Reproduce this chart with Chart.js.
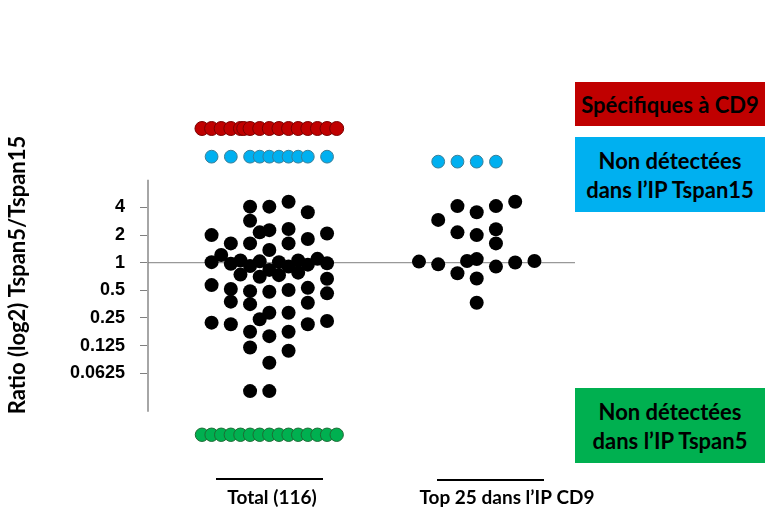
<!DOCTYPE html>
<html>
<head>
<meta charset="utf-8">
<script src="https://cdn.jsdelivr.net/npm/chart.js@4"></script>
<style>
  body { margin: 0; background: #fff; }
  #wrap { position: relative; width: 767px; height: 511px; }
  .box {
    position: absolute; left: 575px; width: 190px;
    display: flex; align-items: center; justify-content: center; text-align: center;
    font-family: Lato, "Open Sans", sans-serif; font-weight: bold; font-size: 22px;
    line-height: 29px; color: #000;
  }
</style>
</head>
<body>
<div id="wrap">
  <canvas id="chart"></canvas>
  <div class="box" style="top:82px;height:44px;background:#C00000;">Spécifiques à CD9</div>
  <div class="box" style="top:137px;height:75px;background:#00B0F0;">Non détectées<br>dans l’IP Tspan15</div>
  <div class="box" style="top:388px;height:75px;background:#00B050;">Non détectées<br>dans l’IP Tspan5</div>
</div>
<script>
// Groupes (position sur l'axe x)
const groupLabels = ['Total (116)', 'Top 25 dans l’IP CD9'];
const groupPos = [1, 2];

// Axe y : log2 du ratio
const yTickValues = [-4, -3, -2, -1, 0, 1, 2];
const yTickLabels = ['0.0625', '0.125', '0.25', '0.5', '1', '2', '4'];

// Total (116) : colonne du nuage + log2(ratio)
const totalCols = [-1, 0, 1, 2, -1, -0.5, 0, 1, -3, 3, -2, -1, 1, 2, 0, -2.5,
  -3, -2, -1.5, -1, -0.5, 0, 0.5, 1, 1.5, 2, 2.5, 3, -1.5, -0.5, 0.5, 1.5,
  -3, -2, -1, 0, 1, 2, 3, 3, -2, -1, 2, 0, 1, -0.5, -3, -2, 2, 3, -1, 1, 0, -1, 1, 0, -1, 0];
const totalLog2 = [2.03, 2.03, 2.21, 1.83, 1.52, 1.10, 1.18, 1.22, 1.0, 1.06, 0.70, 0.70, 0.70, 0.86, 0.46, 0.28,
  0.02, -0.04, 0.08, -0.12, 0.05, -0.26, 0.02, -0.14, 0.08, -0.07, 0.14, -0.02, -0.43, -0.51, -0.45, -0.36,
  -0.81, -0.95, -1.03, -1.05, -0.99, -0.91, -0.58, -1.11, -1.41, -1.50, -1.45, -1.81, -1.81, -2.05, -2.17, -2.23, -2.23, -2.11,
  -2.50, -2.50, -2.66, -3.07, -3.19, -3.62, -4.65, -4.65];

// Spécifiques à CD9 (rouge)
const cd9Cols = [-3.5, -3, -2.5, -2, -1.5, -1.33, -1, -0.5, 0, 0.5, 1, 1.5, 2, 2.5, 3, 3.5];
const cd9Log2 = [4.86, 4.86, 4.86, 4.86, 4.86, 4.86, 4.86, 4.86, 4.86, 4.86, 4.86, 4.86, 4.86, 4.86, 4.86, 4.86];

// Non détectées dans l'IP Tspan15 (bleu)
const noT15Cols = [-3, -2, -1, -0.5, 0, 0.5, 1, 1.5, 2, 3];
const noT15Log2 = [3.84, 3.84, 3.84, 3.84, 3.84, 3.84, 3.84, 3.84, 3.84, 3.84];
const topNoT15Cols = [-2, -1, 0, 1];
const topNoT15Log2 = [3.66, 3.66, 3.66, 3.66];

// Non détectées dans l'IP Tspan5 (vert)
const noT5Cols = [-3.5, -3, -2.5, -2, -1.5, -1, -0.5, 0, 0.5, 1, 1.5, 2, 2.5, 3, 3.5];
const noT5Log2 = [-6.23, -6.23, -6.23, -6.23, -6.23, -6.23, -6.23, -6.23, -6.23, -6.23, -6.23, -6.23, -6.23, -6.23, -6.23];

// Top 25 dans l'IP CD9
const topCols = [-1, 0, 1, 2, -2, -1, 0, 1, 1, -3, -2, -0.5, 0, 1, 2, 3, -1, 0, 0];
const topLog2 = [2.05, 1.83, 2.05, 2.21, 1.55, 1.10, 1.0, 1.21, 0.70, 0.04, -0.06, 0.06, 0.13, -0.14, 0.01, 0.06, -0.38, -0.57, -1.45];

const colStep = 0.0928;
function pts(group, cols, vals) {
  return cols.map((c, i) => ({ x: groupPos[group] + c * colStep, y: vals[i] }));
}
function dots(data, fill, border, r, bw) {
  return { data, backgroundColor: fill, borderColor: border, borderWidth: bw,
    pointRadius: r, pointHoverRadius: r, clip: false };
}

const decor = {
  id: 'decor',
  beforeDatasetsDraw(chart) {
    const { ctx, chartArea, scales: { y } } = chart;
    ctx.save();
    // axe vertical
    ctx.strokeStyle = '#A6A6A6';
    ctx.lineWidth = 2;
    ctx.beginPath();
    ctx.moveTo(chartArea.left, y.getPixelForValue(3.0));
    ctx.lineTo(chartArea.left, y.getPixelForValue(-5.4));
    ctx.stroke();
    // ligne ratio = 1
    ctx.strokeStyle = '#7F7F7F';
    ctx.lineWidth = 1;
    ctx.beginPath();
    ctx.moveTo(chartArea.left, y.getPixelForValue(0));
    ctx.lineTo(chartArea.right, y.getPixelForValue(0));
    ctx.stroke();
    ctx.restore();
  },
  afterDraw(chart) {
    const { ctx } = chart;
    ctx.save();
    ctx.strokeStyle = '#000';
    ctx.lineWidth = 2;
    ctx.beginPath();
    ctx.moveTo(216, 479); ctx.lineTo(323, 479);
    ctx.moveTo(437, 480); ctx.lineTo(544, 480);
    ctx.stroke();
    ctx.fillStyle = '#000';
    ctx.font = 'bold 19px Lato, "Open Sans", sans-serif';
    ctx.textAlign = 'center';
    ctx.textBaseline = 'middle';
    ctx.fillText(groupLabels[0], 272, 498);
    ctx.fillText(groupLabels[1], 507, 498);
    ctx.restore();
  }
};

new Chart(document.getElementById('chart'), {
  type: 'scatter',
  data: {
    datasets: [
      dots(pts(0, noT5Cols, noT5Log2), '#00B050', '#1E6B35', 6.7, 1),
      dots(pts(0, cd9Cols, cd9Log2), '#C00000', '#7A0000', 7, 1),
      dots(pts(0, noT15Cols, noT15Log2), '#00B0F0', '#3C7E96', 6.4, 1),
      dots(pts(1, topNoT15Cols, topNoT15Log2), '#00B0F0', '#3C7E96', 6.4, 1),
      dots(pts(0, totalCols, totalLog2), '#000', '#000', 7, 0),
      dots(pts(1, topCols, topLog2), '#000', '#000', 7, 0)
    ]
  },
  options: {
    responsive: true,
    maintainAspectRatio: false,
    animation: false,
    layout: { padding: { top: 110, bottom: 71, left: 0, right: 192 } },
    plugins: { legend: { display: false }, tooltip: { enabled: false } },
    scales: {
      x: { type: 'linear', min: 0.415, max: 2.474, display: false },
      y: {
        type: 'linear', min: -6.42, max: 5.53,
        afterBuildTicks: s => { s.ticks = yTickValues.map(v => ({ value: v })); },
        afterFit: s => { s.width = 148; },
        border: { display: false },
        grid: { drawOnChartArea: false, drawTicks: true, tickLength: 8, color: '#7F7F7F', lineWidth: 1 },
        ticks: {
          padding: 15, color: '#000',
          font: { family: '"Liberation Sans", Arial, sans-serif', weight: 'bold', size: 18 },
          callback: v => yTickLabels[yTickValues.indexOf(v)]
        },
        title: {
          display: true, text: 'Ratio (log2) Tspan5/Tspan15', color: '#000',
          font: { family: 'Lato, "Open Sans", sans-serif', weight: 'bold', size: 22 },
          padding: { top: 5, bottom: 0 }
        }
      }
    }
  },
  plugins: [decor]
});
</script>
</body>
</html>
